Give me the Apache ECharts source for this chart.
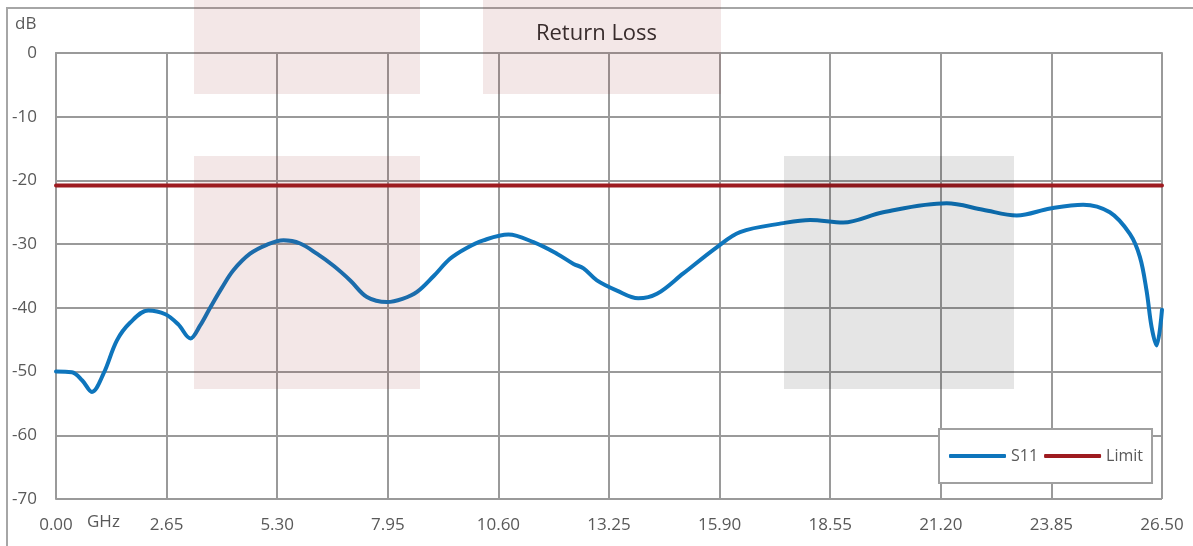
<!DOCTYPE html>
<html>
<head>
<meta charset="utf-8">
<script src="https://cdn.jsdelivr.net/npm/echarts@6/dist/echarts.min.js"></script>
<style>
  html, body { margin: 0; padding: 0; background: #fff; }
  #main { width: 1193px; height: 546px; }
</style>
</head>
<body>
<div id="main"></div>
<script>
// frequency (GHz) and S11 (dB)
var freqGHz = [0, 0.38, 0.63, 0.86, 1.14, 1.46, 1.78, 2.21, 2.62, 2.93, 3.22, 3.45, 3.70, 3.97, 4.25, 4.65, 5.05, 5.45,
  5.85, 6.25, 6.65, 7.05, 7.45, 7.93, 8.30, 8.65, 9.05, 9.44, 9.84, 10.24, 10.84, 11.44, 12.00, 12.40, 12.64, 12.96, 13.44, 13.95,
  14.40, 15.03, 15.83, 16.39, 17.43, 18.07, 18.86, 19.82, 21.34, 22.21, 23.02, 23.82, 24.61, 25.25,
  25.73, 25.97, 26.13, 26.25, 26.37, 26.50];
var s11 = [-50.0, -50.1, -51.4, -53.2, -50.3, -45.1, -42.3, -40.4, -41.0, -42.6, -44.8, -42.8, -39.9, -36.9, -34.1, -31.5, -30.1, -29.4,
  -29.9, -31.5, -33.4, -35.7, -38.3, -39.1, -38.6, -37.5, -35.0, -32.3, -30.6, -29.4, -28.5, -29.7, -31.5, -33.1, -33.8, -35.7, -37.3, -38.5,
  -37.8, -34.6, -30.5, -28.1, -26.7, -26.2, -26.6, -25.0, -23.6, -24.6, -25.5, -24.4, -23.8, -25.0,
  -28.4, -32.0, -37.3, -43.0, -45.9, -40.3];
var limitFreq = [0, 26.5];
var limitDb = [-20.8, -20.8];

var gridColor = '#9a9a9a';
var textColor = '#595959';
var font = 'Open Sans';

function pairs(xs, ys) {
  var out = [];
  for (var i = 0; i < xs.length; i++) out.push([xs[i], ys[i]]);
  return out;
}

var myChart = echarts.init(document.getElementById('main'));

var option = {
  animation: false,
  textStyle: { fontFamily: font },
  title: {
    text: 'Return Loss',
    left: 'center',
    top: 18,
    textStyle: { fontFamily: font, fontSize: 22, fontWeight: 'normal', color: '#2e2e2e' }
  },
  grid: { left: 56, right: 31, top: 53, bottom: 47 },
  legend: {
    left: 939,
    top: 429,
    padding: [19, 9, 19, 10],
    icon: 'roundRect',
    itemWidth: 57,
    itemHeight: 4,
    itemGap: 6,
    backgroundColor: '#fff',
    borderColor: '#a0a0a0',
    borderWidth: 2,
    textStyle: { fontFamily: font, fontSize: 16, color: textColor },
    data: ['S11', 'Limit'],
    z: 20
  },
  xAxis: {
    type: 'value',
    min: 0,
    max: 26.5,
    interval: 2.65,
    axisLine: { show: true, lineStyle: { color: gridColor, width: 2 } },
    axisTick: { show: false },
    axisLabel: {
      margin: 18,
      fontFamily: font,
      fontSize: 17,
      color: textColor,
      formatter: function (v) { return v.toFixed(2); }
    },
    splitLine: { show: true, lineStyle: { color: gridColor, width: 2 } }
  },
  yAxis: {
    type: 'value',
    min: -70,
    max: 0,
    interval: 10,
    axisLine: { show: true, lineStyle: { color: gridColor, width: 2 } },
    axisTick: { show: false },
    axisLabel: { margin: 19, fontFamily: font, fontSize: 17, color: textColor },
    splitLine: { show: true, lineStyle: { color: gridColor, width: 2 } }
  },
  series: [
    {
      name: 'S11',
      type: 'line',
      smooth: 0.35,
      symbol: 'none',
      color: '#0e75bc',
      lineStyle: { width: 4, cap: 'round', join: 'round' },
      data: pairs(freqGHz, s11),
      z: 3
    },
    {
      name: 'Limit',
      type: 'line',
      symbol: 'none',
      color: '#9e1b20',
      lineStyle: { width: 4, cap: 'round' },
      data: pairs(limitFreq, limitDb),
      z: 3
    }
  ],
  graphic: [
    // outer frame
    { type: 'rect', shape: { x: 7, y: 8, width: 1250, height: 600 },
      style: { fill: 'none', stroke: '#a6a6a6', lineWidth: 2 }, z: 1, silent: true },
    { type: 'text', left: 15, top: 16,
      style: { text: 'dB', font: '17px "Open Sans"', fill: textColor }, z: 5 },
    { type: 'text', left: 87, top: 514,
      style: { text: 'GHz', font: '17px "Open Sans"', fill: textColor }, z: 5 },
    // translucent blocks laid over the plot
    { type: 'rect', shape: { x: 194, y: 0, width: 226, height: 94 },
      style: { fill: 'rgba(150,40,40,0.11)' }, z: 100, silent: true },
    { type: 'rect', shape: { x: 483, y: 0, width: 238, height: 94 },
      style: { fill: 'rgba(150,40,40,0.11)' }, z: 100, silent: true },
    { type: 'rect', shape: { x: 194, y: 156, width: 226, height: 233 },
      style: { fill: 'rgba(150,40,40,0.11)' }, z: 100, silent: true },
    { type: 'rect', shape: { x: 784, y: 156, width: 230, height: 233 },
      style: { fill: 'rgba(0,0,0,0.1)' }, z: 100, silent: true }
  ]
};

myChart.setOption(option);
</script>
</body>
</html>
